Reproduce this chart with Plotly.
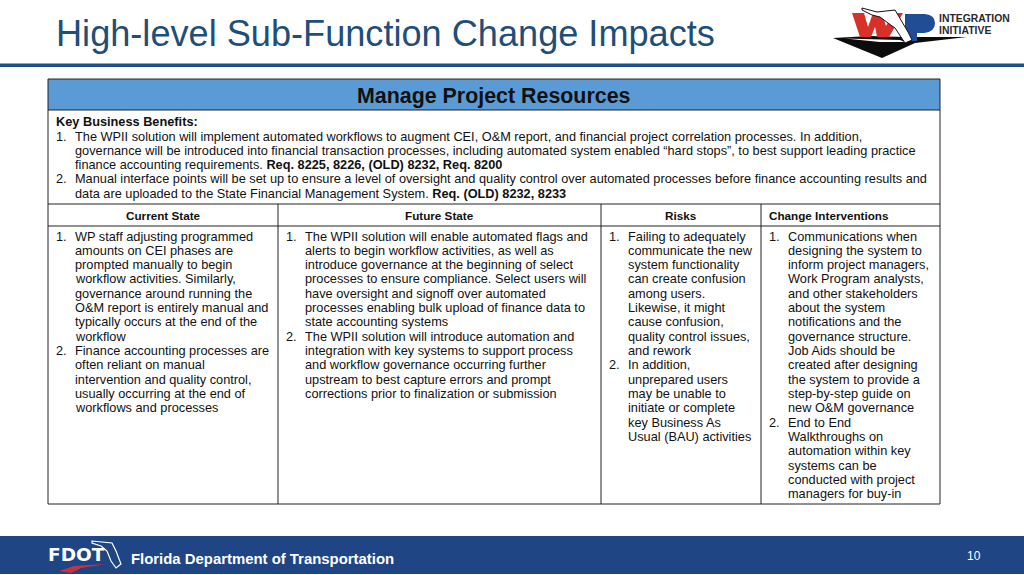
import plotly.graph_objects as go

FONT = "Liberation Sans"
NAVY = "#1f4e8c"

title = "High-level Sub-Function Change Impacts"
table_title = "Manage Project Resources"
benefits_head = "Key Business Benefits:"
benefits = [
    ["The WPII solution will implement automated workflows to augment CEI, O&M report, and financial project correlation processes. In addition,",
     "governance will be introduced into financial transaction processes, including automated system enabled “hard stops”, to best support leading practice",
     "finance accounting requirements. <b>Req. 8225, 8226, (OLD) 8232, Req. 8200</b>"],
    ["Manual interface points will be set up to ensure a level of oversight and quality control over automated processes before finance accounting results and",
     "data are uploaded to the State Financial Management System. <b>Req. (OLD) 8232, 8233</b>"],
]
col_heads = ["Current State", "Future State", "Risks", "Change Interventions"]
current_state = [
    ["WP staff adjusting programmed", "amounts on CEI phases are", "prompted manually to begin",
     "workflow activities. Similarly,", "governance around running the", "O&M report is entirely manual and",
     "typically occurs at the end of the", "workflow"],
    ["Finance accounting processes are", "often reliant on manual", "intervention and quality control,",
     "usually occurring at the end of", "workflows and processes"],
]
future_state = [
    ["The WPII solution will enable automated flags and", "alerts to begin workflow activities, as well as",
     "introduce governance at the beginning of select", "processes to ensure compliance. Select users will",
     "have oversight and signoff over automated", "processes enabling bulk upload of finance data to",
     "state accounting systems"],
    ["The WPII solution will introduce automation and", "integration with key systems to support process",
     "and workflow governance occurring further", "upstream to best capture errors and prompt",
     "corrections prior to finalization or submission"],
]
risks = [
    ["Failing to adequately", "communicate the new", "system functionality", "can create confusion", "among users.",
     "Likewise, it might", "cause confusion,", "quality control issues,", "and rework"],
    ["In addition,", "unprepared users", "may be unable to", "initiate or complete", "key Business As",
     "Usual (BAU) activities"],
]
interventions = [
    ["Communications when", "designing the system to", "inform project managers,", "Work Program analysts,",
     "and other stakeholders", "about the system", "notifications and the", "governance structure.",
     "Job Aids should be", "created after designing", "the system to provide a", "step-by-step guide on",
     "new O&M governance"],
    ["End to End", "Walkthroughs on", "automation within key", "systems can be", "conducted with project",
     "managers for buy-in"],
]
columns = [current_state, future_state, risks, interventions]
col_edges = [48, 278, 601, 761, 940]
row_edges = [79, 110, 204, 226, 504]
footer_text = "Florida Department of Transportation"
page_number = "10"

shapes = []
annotations = []


def add_text(x, y, text, size=12.75, color="#111111", anchor="left", family=FONT):
    annotations.append(dict(x=x, y=y, text=text, showarrow=False, xanchor=anchor, yanchor="middle",
                            xref="x", yref="y", borderpad=0, borderwidth=0,
                            font=dict(family=family, size=size, color=color)))


def add_rect(x0, y0, x1, y1, color, line=None):
    shapes.append(dict(type="rect", x0=x0, y0=y0, x1=x1, y1=y1, xref="x", yref="y", fillcolor=color,
                       line=dict(width=1 if line else 0, color=line or color), layer="below"))


def add_path(path, fill=None, line=None, width=1):
    shapes.append(dict(type="path", path=path, xref="x", yref="y", fillcolor=fill or "rgba(0,0,0,0)",
                       line=dict(width=width if line else 0, color=line or "rgba(0,0,0,0)")))


def add_list(items, x_num, x_text, y_start, step=14.33):
    y = y_start
    for num, item in enumerate(items, 1):
        add_text(x_num, y, f"{num}.")
        for row in item:
            add_text(x_text, y, row)
            y += step


# slide furniture
add_text(56, 33, title, size=36.15, color="#1f4e79")
add_rect(0, 63.5, 1024, 67, NAVY)
add_rect(0, 536, 1024, 574, "#1f4585")
add_text(131, 559, f"<b>{footer_text}</b>", size=14.9, color="white")
add_text(974, 556, page_number, size=12, color="white", anchor="center")

# table
add_rect(col_edges[0], row_edges[0], col_edges[-1], row_edges[1], "#5b9bd5")
for y in row_edges:
    shapes.append(dict(type="line", x0=col_edges[0], x1=col_edges[-1], y0=y, y1=y, xref="x", yref="y",
                       line=dict(color="#222222", width=1)))
for i, x in enumerate(col_edges):
    top = row_edges[0] if i in (0, 4) else row_edges[2]
    shapes.append(dict(type="line", x0=x, x1=x, y0=top, y1=row_edges[-1], xref="x", yref="y",
                       line=dict(color="#222222", width=1)))
add_text(494, 95.5, f"<b>{table_title}</b>", size=21.4, anchor="center")
add_text(56, 121.5, f"<b>{benefits_head}</b>")
add_list(benefits, 56, 75, 136)

for i, head in enumerate(col_heads):
    if i < 3:
        add_text((col_edges[i] + col_edges[i + 1]) / 2, 215, f"<b>{head}</b>", size=11.7, anchor="center")
    else:
        add_text(769, 215, f"<b>{head}</b>", size=11.7)
for i, col in enumerate(columns):
    add_list(col, col_edges[i] + 8, col_edges[i] + 27, 236)

# WP logo, hand traced
add_path("M833,38 L870,36 L905,37 L967,37 L915,43 L882,58 L855,47 Z", fill="#0c0c0c")
add_path("M845,38.5 L900,40 L905,42 L880,42 Z", fill="white")
add_path("M852,13 L864,13 L868,27 L873,13 L882,13 L886,26 L893,13 L903,13 L889,37 L877,37 L875,27 L871,37 L860,37 Z",
         fill="#d8312a")
add_path("M905,14 L925,14 Q935,15 935,23 Q935,32 924,33 L917,33 L917,41 L905,41 Z", fill="#1f4e96")
add_path("M862,8 L877,12 L895,10 L898,15 L908,32 L912,40 L905,43 L895,28 L888,23 L880,17 L872,15 L862,10 Z",
         fill="white", line="#111111", width=1)
add_text(939, 18.5, "<b>INTEGRATION</b>", size=10.4, color="#2a2a2a")
add_text(939, 30.5, "<b>INITIATIVE</b>", size=10.4, color="#2a2a2a")

# FDOT logo, hand traced
add_text(48, 554.5, "<b>FDOT</b>", size=18.5, color="white", family="DejaVu Sans")
add_path("M92,541 L112,543 L116,551 L121,564 L116,568 L111,561 L107,551 L101,546 L92,543 Z",
         line="white", width=1.2)
add_path("M59,571 L74,566 L106,564 L81,568 L71,573 Z", fill="#c8323a")

fig = go.Figure()
fig.update_layout(
    width=1024, height=575, margin=dict(l=0, r=0, t=0, b=0),
    paper_bgcolor="white", plot_bgcolor="white", showlegend=False,
    xaxis=dict(range=[0, 1024], visible=False, fixedrange=True),
    yaxis=dict(range=[575, 0], visible=False, fixedrange=True),
    shapes=shapes, annotations=annotations,
)
fig.write_html("out.html", config={"displayModeBar": False},
               post_script="document.body.style.margin='0';")
